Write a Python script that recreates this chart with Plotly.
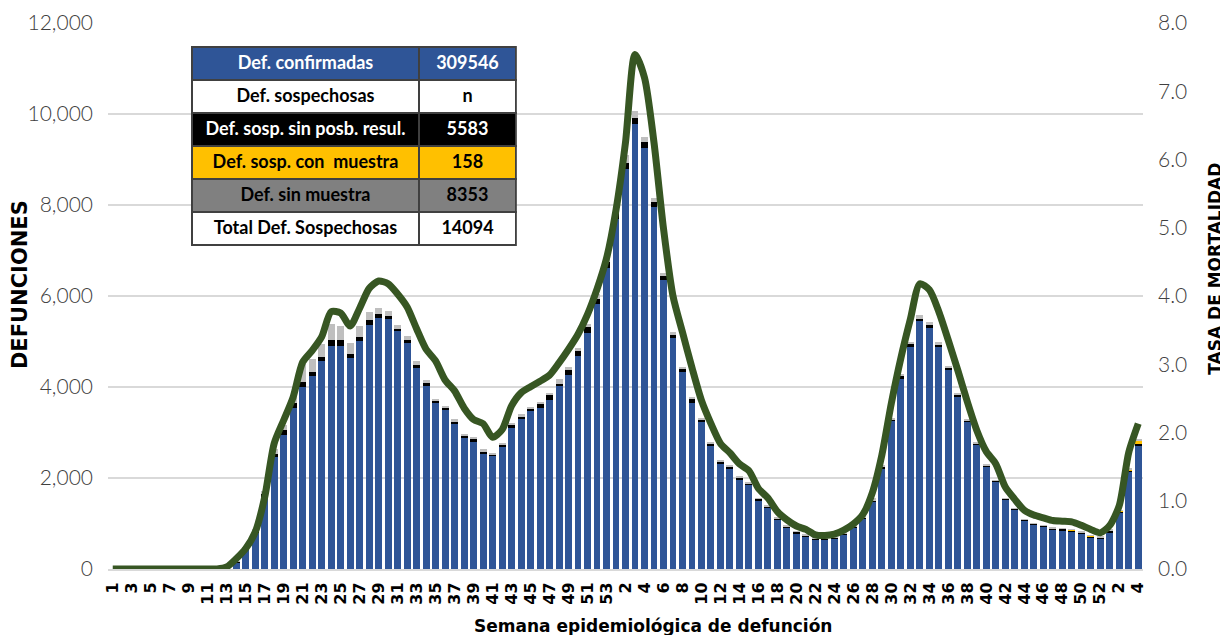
import plotly.graph_objects as go

# ---------------------------------------------------------------------------
# Data
# ---------------------------------------------------------------------------
semanas_2020 = [str(w) for w in range(1, 54)]
semanas_2021 = [str(w) for w in range(1, 53)]
semanas_2022 = [str(w) for w in range(1, 5)]
semanas = semanas_2020 + semanas_2021 + semanas_2022

confirmadas = [
    0, 0, 0, 0, 0, 0, 0, 0, 0, 0, 0, 5, 20,
    150, 430, 800, 1600, 2460, 2940, 3530, 4000, 4240, 4565, 4900, 4900, 4640,
    5005, 5365, 5525, 5490, 5225, 4968, 4427, 4030,
    3645, 3495, 3190, 2875, 2800, 2530, 2480, 2680, 3110, 3290, 3463, 3542,
    3714, 4013, 4264, 4680, 5191, 5819, 6620,
    # 2021
    7690, 8790, 9785, 9260, 7955, 6345, 5073, 4327, 3659, 3227, 2694, 2324,
    2200, 1970, 1853, 1509, 1348, 1084, 908, 791, 718, 645, 645, 667, 762,
    908, 1106, 1494, 2205, 3253, 4183, 4879, 5443, 5297, 4879, 4381, 3795,
    3231, 2730, 2250, 1912, 1524, 1304, 1055, 974, 923, 872, 850, 835, 777,
    703, 667,
    # 2022
    813, 1231, 2132, 2718,
]

sin_posib_resultado = [
    0, 0, 0, 0, 0, 0, 0, 0, 0, 0, 0, 0, 2,
    5, 15, 25, 40, 60, 125, 125, 110, 90, 95, 125, 125, 95,
    95, 103, 73, 66, 44, 59, 51, 59,
    63, 63, 47, 63, 63, 47, 47, 63, 55, 55, 63, 94,
    102, 63, 102, 102, 118, 118, 126,
    133, 133, 133, 133, 102, 86, 79, 79, 79, 55, 63, 39,
    55, 39, 35, 35, 25, 25, 25, 25, 25, 25, 20, 20, 20,
    20, 30, 20, 37, 37, 51, 59, 59, 59, 51, 44, 37,
    37, 37, 30, 25, 25, 25, 25, 22, 22, 22, 30, 22, 22,
    22, 22,
    37, 37, 37, 40,
]

con_muestra = [0] * 100 + [5, 5, 5, 5, 5, 5, 10, 25, 75]

sin_muestra = [
    0, 0, 0, 0, 0, 0, 0, 0, 0, 0, 0, 0, 5,
    15, 30, 50, 80, 120, 100, 150, 400, 293, 293, 367, 308, 242,
    242, 183, 139, 110, 103, 88, 88, 73,
    39, 24, 55, 39, 39, 71, 31, 24, 47, 63, 39, 39,
    55, 94, 79, 79, 79, 102, 94,
    157, 181, 157, 102, 102, 71, 55, 39, 24, 24, 31, 39,
    24, 24, 15, 15, 15, 15, 15, 15, 15, 15, 15, 15, 15,
    15, 15, 40, 37, 37, 44, 51, 73, 73, 51, 44, 37,
    22, 22, 15, 10, 10, 10, 10, 10, 10, 10, 10, 10, 10,
    10, 10,
    10, 10, 10, 15,
]

tasa_mortalidad = [
    0, 0, 0, 0, 0, 0, 0, 0, 0, 0, 0, 0, 0.03,
    0.15, 0.30, 0.54, 1.05, 1.84, 2.18, 2.52, 3.03, 3.20, 3.40, 3.77, 3.75, 3.56,
    3.82, 4.11, 4.22, 4.18, 4.03, 3.84, 3.52, 3.22,
    3.05, 2.77, 2.61, 2.36, 2.19, 2.13, 1.93, 2.04, 2.39, 2.58, 2.67, 2.75,
    2.84, 3.02, 3.22, 3.44, 3.73, 4.10, 4.55,
    5.26, 6.25, 7.54, 7.20, 6.25, 4.99, 4.00, 3.47, 2.95, 2.47, 2.13, 1.84,
    1.70, 1.54, 1.44, 1.18, 1.04, 0.84, 0.72, 0.63, 0.58, 0.50, 0.49, 0.51, 0.57,
    0.66, 0.80, 1.12, 1.67, 2.43, 3.09, 3.66, 4.18, 4.09, 3.77, 3.35, 2.91,
    2.45, 2.03, 1.72, 1.54, 1.20, 1.02, 0.86, 0.79, 0.75, 0.71, 0.70, 0.69, 0.64,
    0.58, 0.53,
    0.64, 0.93, 1.71, 2.13,
]

tabla_etiquetas = ["Def. confirmadas", "Def. sospechosas", "Def. sosp. sin posb. resul.",
                   "Def. sosp. con  muestra", "Def. sin muestra", "Total Def. Sospechosas"]
tabla_valores = ["309546", "n", "5583", "158", "8353", "14094"]
tabla_fondos = ["#2F5597", "#FFFFFF", "#000000", "#FFC000", "#808080", "#FFFFFF"]
tabla_texto = ["#FFFFFF", "#000000", "#FFFFFF", "#000000", "#000000", "#000000"]

x = list(range(len(semanas)))

# ---------------------------------------------------------------------------
# Figure
# ---------------------------------------------------------------------------
fig = go.Figure()

series = [
    ("Def. confirmadas", confirmadas, "#2F5597"),
    ("Def. sosp. sin posb. resul.", sin_posib_resultado, "#000000"),
    ("Def. sosp. con muestra", con_muestra, "#FFC000"),
    ("Def. sin muestra", sin_muestra, "#BFBFBF"),
]
for name, vals, color in series:
    fig.add_trace(go.Bar(x=x, y=vals, name=name, marker_color=color,
                         marker_line_width=0, yaxis="y"))

fig.add_trace(go.Scatter(
    x=x, y=tasa_mortalidad, yaxis="y2", mode="lines", name="Tasa de mortalidad",
    line=dict(color="#375623", width=7, shape="spline", smoothing=0.7),
))

table_font = "Lato, sans-serif"
fig.add_trace(go.Table(
    domain=dict(x=[0.081, 0.395], y=[0.589, 0.956]),
    columnwidth=[228, 97],
    header=dict(
        values=[tabla_etiquetas[0], tabla_valores[0]],
        fill_color=tabla_fondos[0],
        font=dict(family=table_font, size=18, color=tabla_texto[0], weight="bold"),
        line=dict(color="#404040", width=1.5),
        align="center", height=33,
    ),
    cells=dict(
        values=[tabla_etiquetas[1:], tabla_valores[1:]],
        fill_color=[tabla_fondos[1:], tabla_fondos[1:]],
        font=dict(family=table_font, size=18,
                  color=[tabla_texto[1:], tabla_texto[1:]], weight="bold"),
        line=dict(color="#404040", width=1.5),
        align="center", height=33,
    ),
))

ticks_x = x[::2]
ticks_txt = semanas[::2]

# page has an 8px body margin, so the figure is sized/margined to land the
# plot area where the reference has it
fig.update_layout(
    width=1220, height=627,
    margin=dict(l=100, r=85, t=15, b=66),
    barmode="stack", bargap=0.27,
    plot_bgcolor="white", paper_bgcolor="white",
    showlegend=False,
    xaxis=dict(
        range=[-0.5, len(x) - 0.5], tickvals=ticks_x, ticktext=ticks_txt,
        tickangle=-90, showgrid=False, showline=True, linecolor="#D9D9D9",
        linewidth=2, ticks="outside", ticklen=5, tickcolor="rgba(0,0,0,0)",
        automargin=False,
        tickfont=dict(family="DejaVu Sans", size=16, color="#000000", weight="bold"),
    ),
    yaxis=dict(
        range=[0, 12000], dtick=2000, tickformat=",", showgrid=True,
        gridcolor="#D9D9D9", gridwidth=1.5, zeroline=False,
        ticklabelstandoff=14, automargin=False,
        tickfont=dict(family="Lato", size=21, color="#404040", weight=300),
    ),
    yaxis2=dict(
        range=[0, 8], dtick=1, tickformat=".1f", overlaying="y", side="right",
        showgrid=False, zeroline=False, ticklabelstandoff=14, automargin=False,
        tickfont=dict(family="Lato", size=21, color="#404040", weight=300),
    ),
    annotations=[
        dict(text="Semana epidemiológica de defunción", xref="paper", yref="paper",
             x=0.527, y=0, yshift=-57, showarrow=False, yanchor="middle",
             font=dict(family="DejaVu Sans", size=17, color="#000000", weight="bold")),
        dict(text="DEFUNCIONES", xref="paper", yref="paper", x=0, xshift=-88,
             y=0.52, textangle=-90, showarrow=False, xanchor="center",
             font=dict(family="DejaVu Sans", size=21, color="#000000", weight="bold")),
        dict(text="TASA DE MORTALIDAD", xref="paper", yref="paper", x=1, xshift=72,
             y=0.55, textangle=-90, showarrow=False, xanchor="center",
             font=dict(family="DejaVu Sans", size=17, color="#000000", weight="bold")),
    ],
)

fig.write_html("out.html")
